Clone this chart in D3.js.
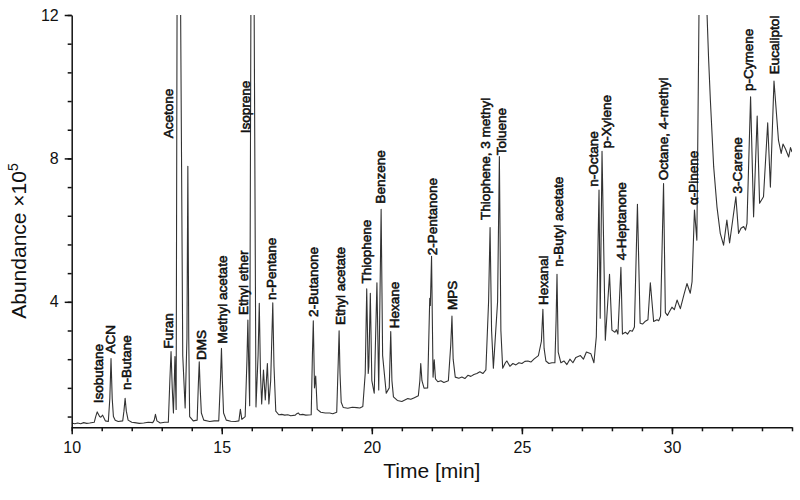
<!DOCTYPE html>
<html>
<head>
<meta charset="utf-8">
<script src="https://cdn.jsdelivr.net/npm/d3@7"></script>
<style>
  html, body { margin: 0; padding: 0; background: #fff; }
  svg { display: block; font-family: "Liberation Sans", Arial, sans-serif; }
</style>
</head>
<body>
<svg id="chart" width="800" height="500"></svg>
<script>
// ---- Data (time in min, abundance in 10^5 counts) ----
const trace = [
  [10.0,0.62],[10.1,0.6],[10.2,0.62],[10.3,0.6],[10.4,0.63],[10.5,0.61],[10.6,0.62],[10.75,0.64],
  [10.8,0.8],[10.85,0.93],[10.93,0.8],[10.97,0.78],[11.03,0.84],[11.12,0.68],
  [11.22,0.66],[11.27,1.3],[11.31,2.42],[11.35,1.3],[11.39,0.8],[11.45,0.7],[11.55,0.66],
  [11.7,0.68],[11.74,0.95],[11.78,1.31],[11.82,0.95],[11.88,0.7],[12.0,0.64],[12.1,0.63],[12.25,0.61],[12.4,0.62],[12.55,0.64],[12.7,0.63],
  [12.75,0.7],[12.79,0.86],[12.84,0.68],[12.95,0.62],[13.1,0.64],[13.22,0.64],
  [13.27,1.8],[13.31,2.61],[13.35,1.6],[13.39,0.9],[13.44,2.47],[13.48,1.0],
  [13.51,12],[13.57,40],[13.63,12],[13.7,2.5],[13.78,1.04],
  [13.84,3],[13.87,7.78],[13.9,3],[13.93,0.8],[14.05,0.68],[14.18,0.7],
  [14.22,1.7],[14.25,2.33],[14.28,1.6],[14.32,0.9],[14.4,0.7],[14.6,0.66],[14.75,0.68],[14.9,0.68],
  [14.96,1.9],[14.99,2.7],[15.02,1.8],[15.06,0.9],[15.15,0.7],[15.3,0.67],[15.45,0.66],[15.57,0.68],
  [15.62,1.0],[15.67,0.72],[15.78,0.8],
  [15.84,2.4],[15.87,3.49],[15.9,2.2],[15.93,1.1],
  [15.97,12],[16.02,40],[16.08,12],[16.14,1.07],
  [16.21,2.5],[16.25,3.96],[16.29,2.0],[16.33,1.15],[16.39,2.1],[16.45,1.26],[16.52,2.28],[16.57,1.15],
  [16.63,1.8],[16.7,3.97],[16.74,2.2],[16.8,0.95],[16.9,0.85],[17.0,0.86],[17.1,0.84],[17.2,0.85],[17.3,0.82],[17.45,0.84],[17.5,0.88],[17.55,0.9],[17.6,0.85],[17.7,0.86],[17.8,0.84],[17.98,0.85],
  [18.02,2.5],[18.05,3.47],[18.09,1.6],[18.13,1.93],[18.18,1.0],[18.3,0.92],[18.45,0.9],[18.6,0.9],[18.7,0.88],[18.83,0.92],
  [18.88,2.3],[18.91,3.19],[18.94,2.0],[18.98,1.2],[19.05,1.05],[19.2,1.03],[19.35,1.06],[19.5,1.05],[19.6,1.04],[19.7,1.08],
  [19.78,2.0],[19.83,4.36],[19.88,2.0],[19.9,2.19],[19.95,4.24],[20.0,1.8],[20.08,1.45],
  [20.17,4.53],[20.23,1.54],[20.31,6.58],[20.36,2.5],[20.48,1.45],
  [20.58,1.6],[20.63,3.17],[20.67,1.8],[20.72,1.35],[20.85,1.25],[21.0,1.22],[21.1,1.26],[21.2,1.3],[21.3,1.28],[21.4,1.32],[21.55,1.38],
  [21.6,1.8],[21.63,2.28],[21.67,1.8],[21.74,1.59],[21.86,1.6],
  [21.93,4.1],[21.95,3.9],[21.99,5.27],[22.04,1.9],[22.08,2.38],[22.12,1.85],[22.2,1.77],[22.3,1.8],[22.4,1.75],[22.55,1.8],
  [22.63,2.8],[22.67,3.6],[22.71,2.4],[22.78,1.9],[22.9,1.87],[23.0,1.9],[23.1,1.86],[23.2,1.95],[23.3,1.92],[23.4,1.97],[23.5,2.0],[23.6,2.05],[23.7,2.0],[23.8,2.1],
  [23.89,4.0],[23.94,6.07],[23.99,3.2],[24.05,2.15],
  [24.19,4.0],[24.25,8.05],[24.3,3.2],[24.36,2.15],[24.45,2.3],[24.5,2.35],[24.6,2.2],[24.7,2.28],[24.8,2.24],[24.9,2.3],[25.0,2.28],[25.1,2.34],[25.2,2.35],[25.3,2.32],[25.4,2.4],[25.55,2.5],
  [25.65,2.9],[25.7,3.79],[25.74,2.7],[25.8,2.35],[25.9,2.28],[26.0,2.3],[26.1,2.3],
  [26.14,3.5],[26.17,4.77],[26.21,2.6],[26.3,2.3],[26.4,2.35],[26.5,2.25],[26.6,2.4],[26.7,2.3],[26.8,2.45],[26.95,2.5],[27.05,2.4],[27.15,2.6],[27.3,2.55],[27.4,2.3],[27.48,3.03],
  [27.57,7.12],[27.61,3.54],[27.67,8.2],[27.78,2.93],[27.92,4.77],[28.0,3.21],[28.1,3.15],[28.15,3.22],[28.2,3.1],
  [28.3,4.96],[28.35,3.1],[28.45,3.15],[28.52,3.1],[28.6,3.2],[28.68,3.18],[28.75,3.3],
  [28.85,6.72],[28.94,3.4],[29.02,3.38],[29.1,3.45],[29.2,3.5],[29.28,4.53],[29.39,3.45],[29.5,3.5],[29.56,3.47],[29.62,3.6],
  [29.72,7.3],[29.78,3.7],[29.85,3.62],[29.9,3.7],[30.0,3.85],[30.08,3.78],[30.17,4.05],[30.28,3.81],[30.4,4.2],[30.5,4.51],[30.61,4.24],[30.67,4.56],
  [30.75,6.56],[30.83,5.72],[30.9,12],[31.02,30],[31.17,12],[31.22,10.8],[31.28,9.63],[31.39,7.77],[31.5,6.65],[31.61,5.91],[31.72,5.58],
  [31.83,6.28],[31.92,5.64],[32.13,6.93],[32.22,5.91],[32.3,6.05],[32.39,6.1],[32.45,6.0],[32.5,6.19],
  [32.62,9.72],[32.72,6.37],[32.84,9.18],[32.92,6.75],[33.05,6.93],[33.19,8.99],[33.28,7.2],
  [33.4,10.16],[33.55,8.5],[33.64,8.14],[33.7,8.4],[33.78,8.27],[33.89,8.04],[33.95,8.3],[34.0,8.18]
];

const labelNames = ["Isobutane","ACN","n-Butane","Furan","Acetone","DMS","Methyl acetate","Ethyl ether","Isoprene","n-Pentane",
  "2-Butanone","Ethyl acetate","Thiophene","Benzene","Hexane","2-Pentanone","MPS","Thiophene, 3 methyl","Toluene","Hexanal",
  "n-Butyl acetate","n-Octane","p-Xylene","4-Heptanone","Octane, 4-methyl","\u03b1-Pinene","3-Carene","p-Cymene","Eucaliptol"];
const labelTimes = [10.87,11.3,11.83,13.22,13.22,14.31,15.02,15.72,15.78,16.64,
  18.05,18.94,19.8,20.28,20.75,22.0,22.67,23.78,24.31,25.7,
  26.22,27.39,27.81,28.3,29.7,30.7,32.17,32.55,33.4];
const labelAbund = [1.17,2.56,1.54,2.7,8.56,2.38,2.84,3.63,8.7,4.05,
  3.58,3.35,4.51,6.74,3.26,5.3,3.77,6.28,8.09,3.91,
  4.98,7.21,8.28,5.16,7.39,6.7,7.02,9.88,10.35];

const xMajorTicks = [10,15,20,25,30];
const xMinorTicks = d3.range(10,35,1);
const yMajorTicks = [4,8,12];
const yMinorTicks = d3.range(1,16).map(i => +(i*0.8).toFixed(1));

// ---- Layout ----
const svg = d3.select("#chart");
const mLeft = 71.7, mRight = 792, mTop = 15, mBottom = 427.3;
const x = d3.scaleLinear().domain([10,34]).range([mLeft,mRight]);
const y = d3.scaleLinear().domain([0.5,12]).range([mBottom,mTop]);

svg.append("defs").append("clipPath").attr("id","clip")
  .append("rect").attr("x",mLeft).attr("y",mTop).attr("width",mRight-mLeft).attr("height",mBottom-mTop);

const line = d3.line().x(d => x(d[0])).y(d => y(d[1]));
svg.append("path").datum(trace)
  .attr("clip-path","url(#clip)")
  .attr("d",line).attr("fill","none").attr("stroke","#333").attr("stroke-width",1.1)
  .attr("stroke-linejoin","round");

// axes
const axStyle = g => {
  g.selectAll("path, line").attr("stroke","#111").attr("stroke-width",1.5);
  g.selectAll("text").attr("fill","#111").attr("font-size","16px")
   .attr("font-family","'Liberation Sans', Arial, sans-serif");
};
svg.append("g").attr("transform",`translate(0,${mBottom})`)
  .call(d3.axisBottom(x).tickValues(xMinorTicks).tickSize(4).tickSizeOuter(0).tickFormat(""))
  .call(axStyle);
svg.append("g").attr("transform",`translate(0,${mBottom})`)
  .call(d3.axisBottom(x).tickValues(xMajorTicks).tickSize(7).tickSizeOuter(0).tickPadding(7).tickFormat(d3.format("d")))
  .call(axStyle).call(g => g.select(".domain").remove());
svg.append("g").attr("transform",`translate(${mLeft},0)`)
  .call(d3.axisLeft(y).tickValues(yMinorTicks).tickSize(4).tickSizeOuter(0).tickFormat(""))
  .call(axStyle);
svg.append("g").attr("transform",`translate(${mLeft},0)`)
  .call(d3.axisLeft(y).tickValues(yMajorTicks).tickSize(7).tickSizeOuter(0).tickPadding(6).tickFormat(d3.format("d")))
  .call(axStyle).call(g => g.select(".domain").remove());

// axis titles
svg.append("text").attr("x",(mLeft+mRight)/2).attr("y",478)
  .attr("text-anchor","middle").attr("font-size","21px").attr("fill","#111")
  .text("Time [min]");
const yt = svg.append("text").attr("transform","translate(26,241) rotate(-90)")
  .attr("text-anchor","middle").attr("font-size","21px").attr("fill","#111");
yt.append("tspan").text("Abundance \u00d710");
yt.append("tspan").attr("dy","-8").attr("font-size","14px").text("5");

// peak labels
svg.append("g").selectAll("text").data(labelNames).join("text")
  .attr("transform",(d,i) => `translate(${x(labelTimes[i])},${y(labelAbund[i])}) rotate(-90)`)
  .attr("dy","0.35em").attr("text-anchor","start")
  .attr("font-size","13.5px").attr("fill","#111").attr("stroke","#111").attr("stroke-width",0.55)
  .text(d => d);
</script>
</body>
</html>
